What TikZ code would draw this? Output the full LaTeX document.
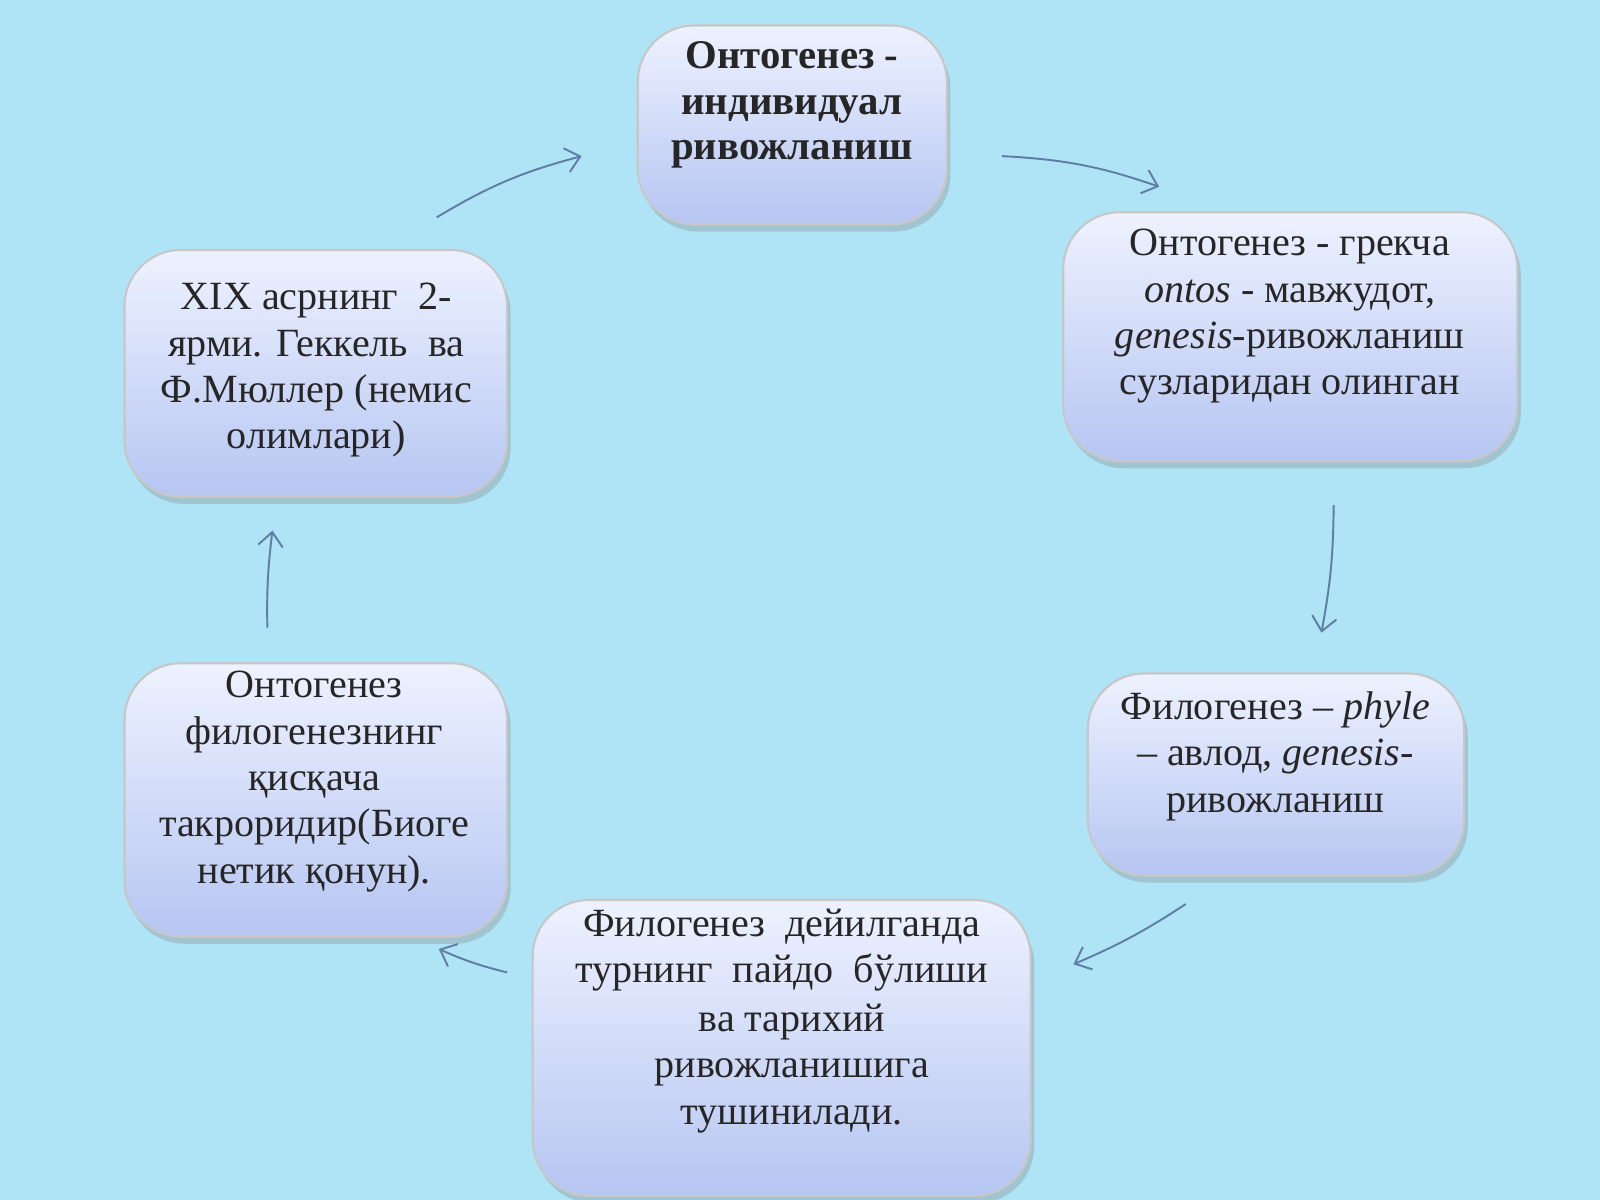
\documentclass[tikz,border=0pt]{standalone}
\usepackage{fontspec}
\setmainfont{Liberation Serif}
\usetikzlibrary{shadows,arrows.meta}
\definecolor{bg}{RGB}{174,228,245}
\definecolor{topc}{RGB}{238,242,255}
\definecolor{botc}{RGB}{182,198,242}
\definecolor{arc}{RGB}{95,125,165}
\begin{document}
\begin{tikzpicture}[x=1cm/98,y=-1cm/98,
  box/.style={draw=black!22,line width=0.6pt,rounded corners=16pt,top color=topc,bottom color=botc,
    drop shadow={shadow xshift=1pt,shadow yshift=-2pt,opacity=0.3}},
  txt/.style={align=center,font=\fontsize{11.4}{13.2}\selectfont,text=black!85},
  arr/.style={draw=arc,line width=0.55pt,-{Straight Barb[length=4pt,width=7pt]}}]
\fill[bg] (0,0) rectangle (1568,1176);
\useasboundingbox (0,0) rectangle (1568,1176);
\path[box] (625,25) rectangle (928,220);
\node[txt,font=\fontsize{11.6}{13}\selectfont\bfseries] (a) at (776,103) {Онтогенез -\\индивидуал\\ривожланиш};
\path[box] (1042,208) rectangle (1487,452);
\node[txt] (b) at (1264,310) {Онтогенез - грекча\\\textit{ontos} - мавжудот,\\\textit{genesis}-ривожланиш\\сузларидан олинган};
\path[box] (1066,660) rectangle (1435,858);
\node[txt] (c) at (1250,741) {Филогенез – \textit{phyle}\\– авлод, \textit{genesis}-\\ривожланиш};
\path[box] (522,882) rectangle (1010,1172);
\node[txt] (d) at (766,931) {Филогенез\ \ дейилганда\\турнинг\ \ пайдо\ \ бўлиши};
\node[txt] (d2) at (776,1047) {ва тарихий\\ривожланишига\\тушинилади.};
\path[box] (122,650) rectangle (497,918);
\node[txt] (e) at (308,766) {Онтогенез\\филогенезнинг\\қисқача\\такроридир(Биоге\\нетик қонун).};
\path[box] (122,245) rectangle (497,487);
\node[txt] (f) at (310,363) {XIX асрнинг\ \ 2-\\ярми. Геккель\ \ ва\\Ф.Мюллер (немис\\олимлари)};
\coordinate (p1) at (428,213); \coordinate (q1) at (570,153);
\coordinate (p2) at (982,153); \coordinate (q2) at (1136,183);
\coordinate (p3) at (1307,495); \coordinate (q3) at (1295,620);
\coordinate (p4) at (1162,886); \coordinate (q4) at (1052,945);
\coordinate (p5) at (497,953); \coordinate (q5) at (430,930);
\coordinate (p6) at (262,615); \coordinate (q6) at (267,520);
\draw[arr] (p1) to[bend left=8] (q1);
\draw[arr] (p2) to[bend left=8] (q2);
\draw[arr] (p3) to[bend left=5] (q3);
\draw[arr] (p4) to[bend left=5] (q4);
\draw[arr] (p5) to[bend left=5] (q5);
\draw[arr] (p6) to[bend left=4] (q6);
\end{tikzpicture}
\end{document}
